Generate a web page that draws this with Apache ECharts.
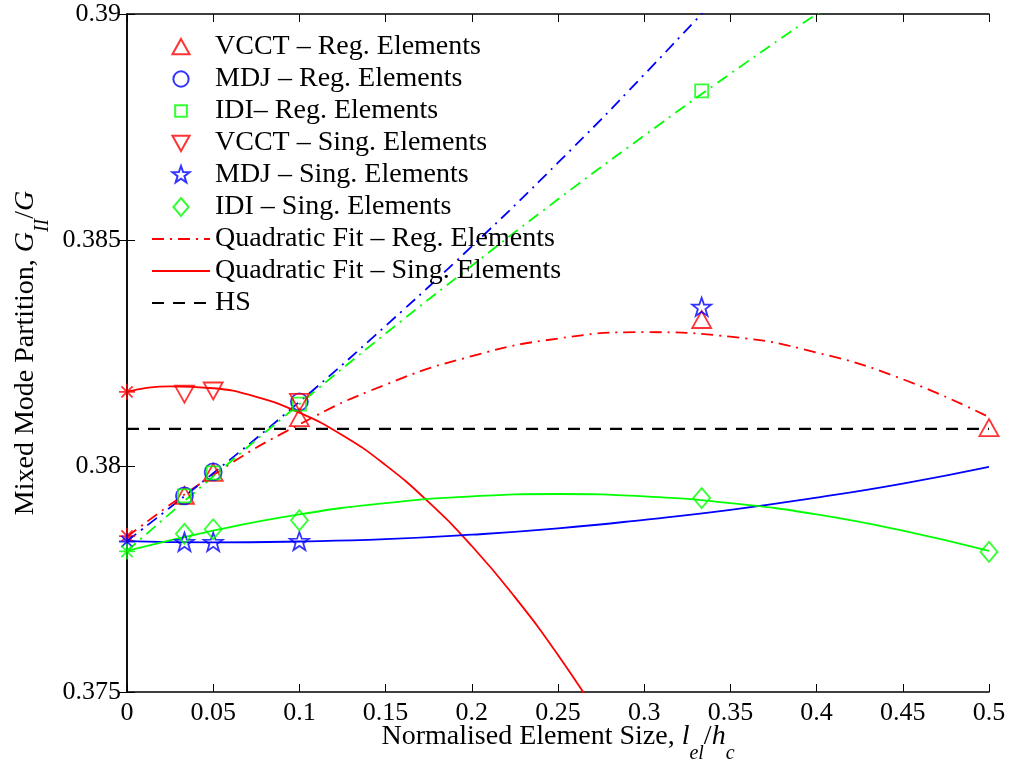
<!DOCTYPE html>
<html>
<head>
<meta charset="utf-8">
<script src="https://cdn.jsdelivr.net/npm/echarts@6/dist/echarts.min.js"></script>
<style>
  html, body { margin: 0; padding: 0; background: #fff; }
  #chart { width: 1010px; height: 765px; }
</style>
</head>
<body>
<div id="chart"></div>
<script>
// measured element sizes (l_el / h_c)
const xPts = [0.03333, 0.05, 0.1, 0.33333, 0.5];
const vcctReg = [0.37934, 0.37985, 0.38106, 0.38323, 0.38084];
const mdjReg = [0.37934, 0.37987, 0.38142, null, null];
const idiReg = [0.37934, 0.37985, 0.38137, 0.38830, null];
const vcctSing = [0.38160, 0.38167, 0.38142, null, null];
const mdjSing = [0.37830, 0.37830, 0.37832, 0.38350, null];
const idiSing = [0.37850, 0.37860, 0.37880, 0.37929, 0.37810];

// extrapolated values at l_el/h_c = 0 (asterisks)
const zeroRed = [0.37845, 0.38164];
const zeroBlue = [0.37833];
const zeroGreen = [0.37811];

// quadratic fits
const fitX = [0, 0.05, 0.1, 0.15, 0.2, 0.25, 0.3, 0.35, 0.4, 0.45, 0.5];
const fitRegRed = [0.37843, 0.37980, 0.38092, 0.38180, 0.38243, 0.38282, 0.38296, 0.38286, 0.38251, 0.38192, 0.38108];
const fitRegBlue = [0.37834, 0.37984, 0.38142, 0.38310, 0.38486, 0.38671, 0.38866, 0.39069, null, null, null];
const fitRegGreen = [0.37812, 0.37977, 0.38137, 0.38293, 0.38443, 0.38590, 0.38731, 0.38868, 0.39000, 0.39128, null];
const fitSingBlue = [0.37834, 0.37831, 0.37833, 0.37838, 0.37848, 0.37862, 0.37881, 0.37903, 0.37930, 0.37961, 0.37998];
const fitSingGreen = [0.37812, 0.37857, 0.37893, 0.37918, 0.37933, 0.37938, 0.37933, 0.37918, 0.37893, 0.37857, 0.37812];
const fitXFine = [0, 0.025, 0.05, 0.075, 0.1, 0.125, 0.15, 0.175, 0.2, 0.225, 0.25, 0.275, 0.3];
const fitSingRed = [0.38164, 0.38176, 0.38172, 0.38153, 0.38118, 0.38068, 0.38002, 0.37920, 0.37823, 0.37710, 0.37582, 0.37438, 0.37278];
const hsX = [0, 0.5];
const hsY = [0.38082, 0.38082];

const markerNames = [
  'VCCT – Reg. Elements', 'MDJ – Reg. Elements', 'IDI– Reg. Elements',
  'VCCT – Sing. Elements', 'MDJ – Sing. Elements', 'IDI – Sing. Elements'
];
const lineNames = ['Quadratic Fit – Reg. Elements', 'Quadratic Fit – Sing. Elements', 'HS'];

const RED = '#ff0000', BLUE = '#0000ff', GREEN = '#00ff00';
const FONT = 'Liberation Serif';
// path symbols (square box drawn by the move-to corners so shapes keep their size in the legend)
const TRI_UP = 'path://M-10,-10M10,10M0,-9L9.5,8L-9.5,8Z';
const TRI_DN = 'path://M-10,-10M10,10M0,9L9.5,-8L-9.5,-8Z';
const SQUARE = 'path://M-10,-10M10,10M-6.5,-6.5L6.5,-6.5L6.5,6.5L-6.5,6.5Z';
const DIAMOND = 'path://M-10,-10M10,10M0,-10L8.5,0L0,10L-8.5,0Z';
const CIRCLE = 'path://M-10,-10M10,10M8.5,0A8.5,8.5,0,1,1,-8.5,0A8.5,8.5,0,1,1,8.5,0Z';
const STAR = 'path://M-10,-10M10,10M0,-10L2.35,-3.24L9.51,-3.09L3.8,1.24L5.88,8.09L0,4L-5.88,8.09L-3.8,1.24L-9.51,-3.09L-2.35,-3.24Z';
const ASTER = 'path://M0,-10L0,10M-10,0L10,0M-7,-7L7,7M-7,7L7,-7';
const DASHDOT = [12, 6, 2, 6];

function pairs(xs, ys) {
  return xs.map((x, i) => [x, ys[i]]).filter(p => p[1] != null);
}

function markers(name, data, color, symbol, size) {
  return {
    name: name, type: 'scatter', data: data,
    symbol: symbol, symbolSize: size, symbolKeepAspect: true,
    itemStyle: { color: 'rgba(0,0,0,0)', borderColor: color, borderWidth: 1.8 },
    z: 5, silent: true
  };
}

function fit(name, xs, ys, color, type) {
  return {
    name: name, type: 'line', data: pairs(xs, ys),
    smooth: true, symbol: 'none', color: color,
    lineStyle: { color: color, width: 1.8, type: type },
    clip: true, z: 3, silent: true
  };
}

const axisNameRich = {
  n: { fontFamily: FONT, fontSize: 28, color: '#000', verticalAlign: 'top' },
  i: { fontFamily: FONT, fontSize: 28, fontStyle: 'italic', color: '#000', verticalAlign: 'top' },
  s: { fontFamily: FONT, fontSize: 20, fontStyle: 'italic', color: '#000', verticalAlign: 'top', padding: [21, 0, 0, 0] }
};

const tickLine = { show: true, inside: true, length: 8, lineStyle: { color: '#000', width: 1 } };
const axisLineStyle = { show: true, lineStyle: { color: '#000', width: 1.5 } };

// legend entries: marker entries show just the symbol, line entries hide the symbol
const legendData = markerNames.map(n => ({ name: n }))
  .concat(lineNames.map(n => ({ name: n, itemStyle: { opacity: 0 } })));

const chart = echarts.init(document.getElementById('chart'));
chart.setOption({
  animation: false,
  backgroundColor: '#fff',
  grid: { left: 127, right: 21, top: 14, bottom: 73, outerBoundsMode: 'none', containLabel: false },
  legend: {
    data: legendData,
    orient: 'vertical',
    left: 146, top: 28,
    itemWidth: 58, itemHeight: 18, itemGap: 4,
    symbolKeepAspect: true,
    textStyle: { fontFamily: FONT, fontSize: 28, color: '#000', lineHeight: 27 },
    selectedMode: false
  },
  xAxis: [{
    type: 'value', min: 0, max: 0.5, interval: 0.05, position: 'bottom',
    axisLine: axisLineStyle, axisTick: tickLine,
    axisLabel: { fontFamily: FONT, fontSize: 26, color: '#000', margin: 8 },
    splitLine: { show: false },
    name: '{n|Normalised Element Size, }{i|l}{s|el}{n|/}{i|h}{s|c}',
    nameLocation: 'middle', nameGap: 31, nameMoveOverlap: false,
    nameTextStyle: { rich: axisNameRich }
  }, {
    type: 'value', min: 0, max: 0.5, interval: 0.05, position: 'top',
    axisLine: axisLineStyle, axisTick: tickLine,
    axisLabel: { show: false }, splitLine: { show: false }
  }],
  yAxis: [{
    type: 'value', min: 0.375, max: 0.39, interval: 0.005, position: 'left',
    axisLine: axisLineStyle, axisTick: tickLine,
    axisLabel: { fontFamily: FONT, fontSize: 26, color: '#000', margin: 6 },
    splitLine: { show: false },
    name: '{n|Mixed Mode Partition, }{i|G}{s|II}{n|/}{i|G}',
    nameLocation: 'middle', nameRotate: 90, nameGap: 74, nameMoveOverlap: false,
    nameTextStyle: { rich: axisNameRich }
  }, {
    type: 'value', min: 0.375, max: 0.39, interval: 0.005, position: 'right',
    axisLine: axisLineStyle, axisTick: tickLine,
    axisLabel: { show: false }, splitLine: { show: false }
  }],
  series: [
    fit('Quadratic Fit – Reg. Elements', fitX, fitRegRed, RED, DASHDOT),
    fit('MDJ Reg fit', fitX, fitRegBlue, BLUE, DASHDOT),
    fit('IDI Reg fit', fitX, fitRegGreen, GREEN, DASHDOT),
    fit('Quadratic Fit – Sing. Elements', fitXFine, fitSingRed, RED, 'solid'),
    fit('MDJ Sing fit', fitX, fitSingBlue, BLUE, 'solid'),
    fit('IDI Sing fit', fitX, fitSingGreen, GREEN, 'solid'),
    {
      name: 'HS', type: 'line', data: pairs(hsX, hsY), symbol: 'none', color: '#000',
      lineStyle: { color: '#000', width: 2.2, type: [12, 9] }, z: 3, silent: true
    },
    markers(markerNames[0], pairs(xPts, vcctReg), RED, TRI_UP, 20),
    markers(markerNames[1], pairs(xPts, mdjReg), BLUE, CIRCLE, 20),
    markers(markerNames[2], pairs(xPts, idiReg), GREEN, SQUARE, 20),
    markers(markerNames[3], pairs(xPts, vcctSing), RED, TRI_DN, 20),
    markers(markerNames[4], pairs(xPts, mdjSing), BLUE, STAR, 20),
    markers(markerNames[5], pairs(xPts, idiSing), GREEN, DIAMOND, 20),
    markers('zero red', zeroRed.map(v => [0, v]), RED, ASTER, 16),
    markers('zero blue', zeroBlue.map(v => [0, v]), BLUE, ASTER, 16),
    markers('zero green', zeroGreen.map(v => [0, v]), GREEN, ASTER, 16)
  ]
});
</script>
</body>
</html>
